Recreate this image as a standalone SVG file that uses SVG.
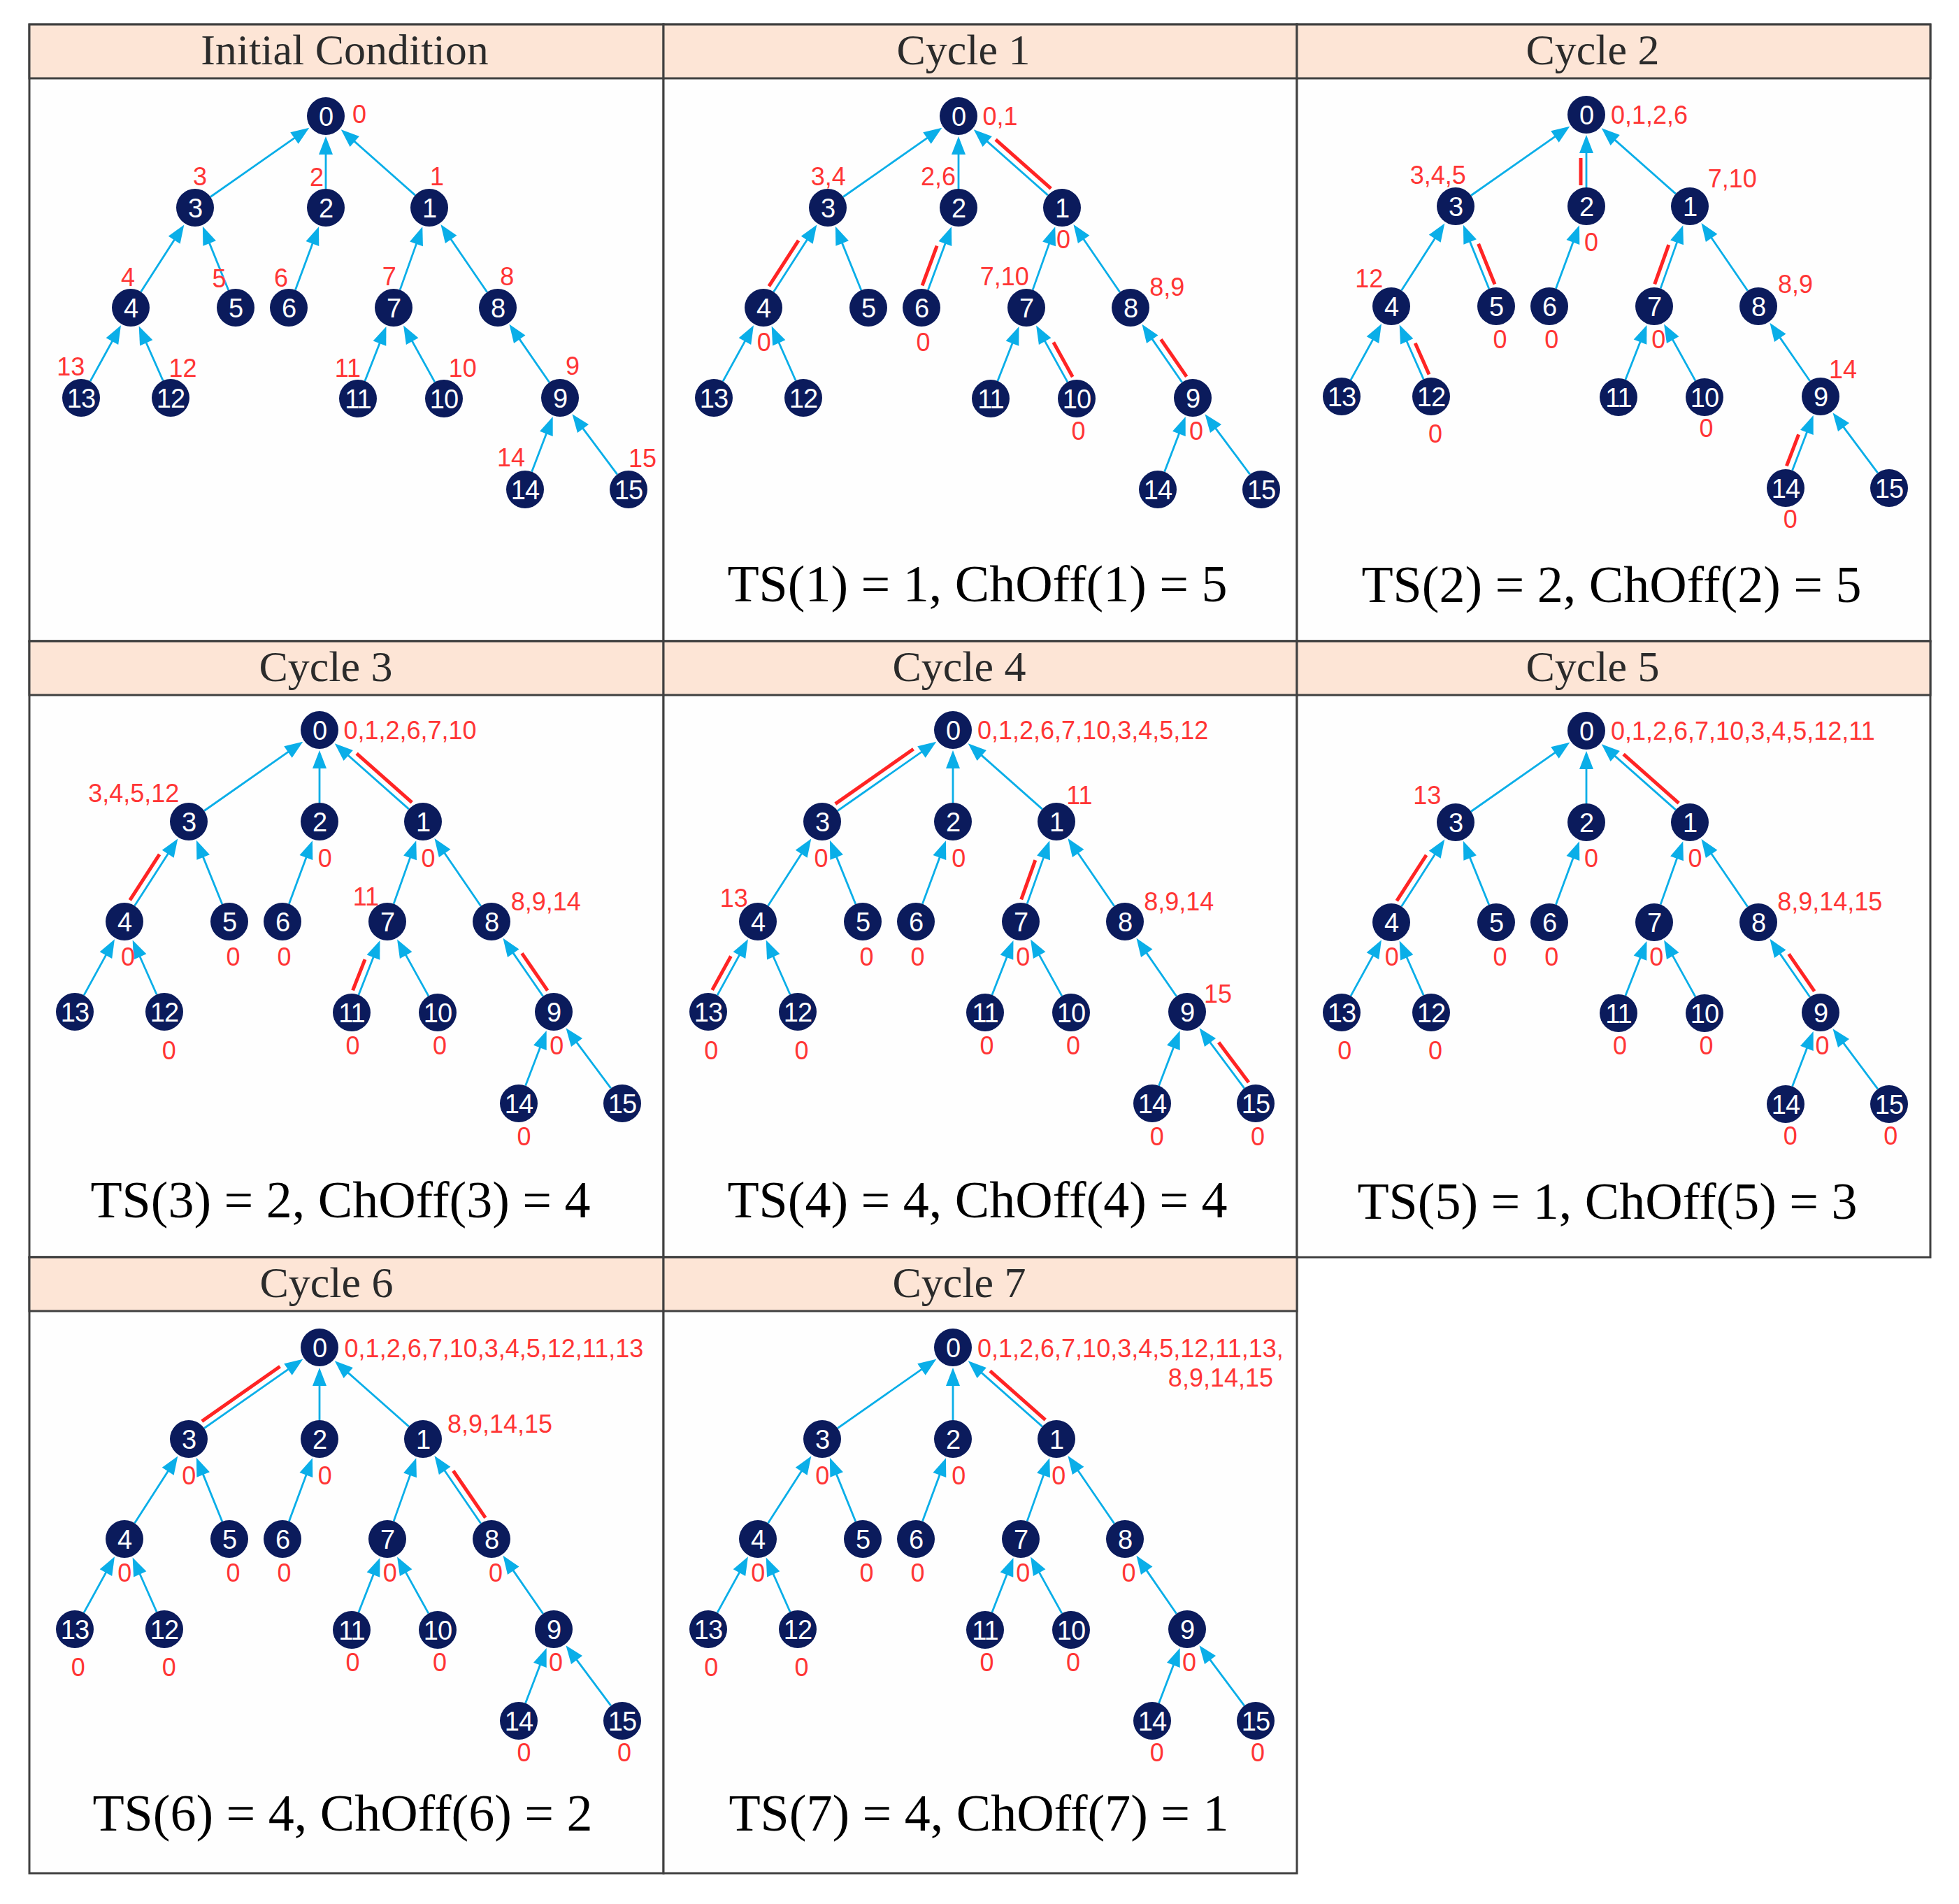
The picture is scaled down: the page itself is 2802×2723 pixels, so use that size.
<svg xmlns="http://www.w3.org/2000/svg" width="2802" height="2723" viewBox="0 0 2802 2723">
<defs>
<style>
.pb{fill:#fefefe;stroke:#404040;stroke-width:3}
.hd{fill:#fde5d6;stroke:#404040;stroke-width:3}
.ht{font-family:"Liberation Serif","Times New Roman",serif;font-size:62px;fill:#2b2b2b;text-anchor:middle}
.ts{font-family:"Liberation Serif","Times New Roman",serif;font-size:74px;fill:#000;text-anchor:middle}
.e{stroke:#0aaee8;stroke-width:2.8;fill:none;marker-end:url(#ah)}
.r{stroke:#ff2424;stroke-width:5;fill:none}
.n circle{fill:#0b1b5c}
.n text{font-family:"Liberation Sans",Arial,sans-serif;font-size:38px;fill:#fff;text-anchor:middle;letter-spacing:-1px}
.l{font-family:"Liberation Sans",Arial,sans-serif;font-size:36px;fill:#ff3535;text-anchor:middle}
.ls{text-anchor:start}
.le{text-anchor:end}
</style>
<marker id="ah" markerUnits="userSpaceOnUse" markerWidth="30" markerHeight="30" refX="0" refY="0" orient="auto" style="overflow:visible">
<path d="M-2,-10 L24,0 L-2,10 Z" fill="#0aaee8"/>
</marker>
</defs>
<rect x="0" y="0" width="2802" height="2723" fill="#ffffff"/>

<g id="frames">
<rect class="pb" x="42" y="35" width="907" height="882"/>
<rect class="pb" x="949" y="35" width="906" height="882"/>
<rect class="pb" x="1855" y="35" width="906" height="882"/>
<rect class="pb" x="42" y="917" width="907" height="881"/>
<rect class="pb" x="949" y="917" width="906" height="881"/>
<rect class="pb" x="1855" y="917" width="906" height="881"/>
<rect class="pb" x="42" y="1798" width="907" height="881"/>
<rect class="pb" x="949" y="1798" width="906" height="881"/>
<rect class="hd" x="42" y="35" width="907" height="77"/>
<rect class="hd" x="949" y="35" width="906" height="77"/>
<rect class="hd" x="1855" y="35" width="906" height="77"/>
<rect class="hd" x="42" y="917" width="907" height="77"/>
<rect class="hd" x="949" y="917" width="906" height="77"/>
<rect class="hd" x="1855" y="917" width="906" height="77"/>
<rect class="hd" x="42" y="1798" width="907" height="77"/>
<rect class="hd" x="949" y="1798" width="906" height="77"/>
</g>
<g id="titles">
<text class="ht" x="493" y="92">Initial Condition</text>
<text class="ht" x="1378" y="92">Cycle 1</text>
<text class="ht" x="2278" y="92">Cycle 2</text>
<text class="ht" x="466" y="974">Cycle 3</text>
<text class="ht" x="1372" y="974">Cycle 4</text>
<text class="ht" x="2278" y="974">Cycle 5</text>
<text class="ht" x="467" y="1855">Cycle 6</text>
<text class="ht" x="1372" y="1855">Cycle 7</text>
<text class="ts" x="1398" y="860">TS(1) = 1, ChOff(1) = 5</text>
<text class="ts" x="2305" y="861">TS(2) = 2, ChOff(2) = 5</text>
<text class="ts" x="487" y="1741">TS(3) = 2, ChOff(3) = 4</text>
<text class="ts" x="1398" y="1741">TS(4) = 4, ChOff(4) = 4</text>
<text class="ts" x="2299" y="1743">TS(5) = 1, ChOff(5) = 3</text>
<text class="ts" x="490" y="2618">TS(6) = 4, ChOff(6) = 2</text>
<text class="ts" x="1400" y="2618">TS(7) = 4, ChOff(7) = 1</text>
</g>

<!-- ===== Initial ===== -->
<g id="p0" transform="translate(466,166)">
<g id="p0-connectors">
<line class="e" x1="-164.9" y1="115.5" x2="-43.4" y2="30.4"/>
<line class="e" x1="0" y1="104" x2="0" y2="53"/>
<line class="e" x1="127.8" y1="113.1" x2="39.7" y2="35.1"/>
<line class="e" x1="-264.4" y1="251.3" x2="-215.7" y2="175.6"/>
<line class="e" x1="-139.2" y1="249" x2="-167.1" y2="180.1"/>
<line class="e" x1="-43.6" y1="248.7" x2="-18.4" y2="180.7"/>
<line class="e" x1="106.1" y1="248.6" x2="130.2" y2="180.9"/>
<line class="e" x1="230.7" y1="251.7" x2="178" y2="174.7"/>
<line class="e" x1="-337" y1="379.4" x2="-304.6" y2="320.4"/>
<line class="e" x1="-232.9" y1="378.3" x2="-257.6" y2="322.5"/>
<line class="e" x1="55.9" y1="378.9" x2="77.7" y2="323.3"/>
<line class="e" x1="155.9" y1="380.4" x2="122.7" y2="320.4"/>
<line class="e" x1="319.7" y1="380.8" x2="276.1" y2="317.6"/>
<line class="e" x1="294.6" y1="508.8" x2="316.1" y2="452.5"/>
<line class="e" x1="416.8" y1="512.4" x2="366.8" y2="445.4"/>
</g>
<g id="p0-n0" class="n"><circle cx="0" cy="0" r="27"/><text x="0" y="13.5">0</text></g>
<g id="p0-n1" class="n"><circle cx="148" cy="131" r="27"/><text x="148" y="144.5">1</text></g>
<g id="p0-n2" class="n"><circle cx="0" cy="131" r="27"/><text x="0" y="144.5">2</text></g>
<g id="p0-n3" class="n"><circle cx="-187" cy="131" r="27"/><text x="-187" y="144.5">3</text></g>
<g id="p0-n4" class="n"><circle cx="-279" cy="274" r="27"/><text x="-279" y="287.5">4</text></g>
<g id="p0-n5" class="n"><circle cx="-129" cy="274" r="27"/><text x="-129" y="287.5">5</text></g>
<g id="p0-n6" class="n"><circle cx="-53" cy="274" r="27"/><text x="-53" y="287.5">6</text></g>
<g id="p0-n7" class="n"><circle cx="97" cy="274" r="27"/><text x="97" y="287.5">7</text></g>
<g id="p0-n8" class="n"><circle cx="246" cy="274" r="27"/><text x="246" y="287.5">8</text></g>
<g id="p0-n9" class="n"><circle cx="335" cy="403" r="27"/><text x="335" y="416.5">9</text></g>
<g id="p0-n10" class="n"><circle cx="169" cy="404" r="27"/><text x="169" y="417.5">10</text></g>
<g id="p0-n11" class="n"><circle cx="46" cy="404" r="27"/><text x="46" y="417.5">11</text></g>
<g id="p0-n12" class="n"><circle cx="-222" cy="403" r="27"/><text x="-222" y="416.5">12</text></g>
<g id="p0-n13" class="n"><circle cx="-350" cy="403" r="27"/><text x="-350" y="416.5">13</text></g>
<g id="p0-n14" class="n"><circle cx="285" cy="534" r="27"/><text x="285" y="547.5">14</text></g>
<g id="p0-n15" class="n"><circle cx="433" cy="534" r="27"/><text x="433" y="547.5">15</text></g>
<g id="p0-labels">
<text class="l ls" x="38" y="10">0</text>
<text class="l" x="-180" y="98.6">3</text>
<text class="l" x="-13" y="100.3">2</text>
<text class="l" x="159" y="98.6">1</text>
<text class="l" x="-283" y="243.3">4</text>
<text class="l" x="-152.4" y="245">5</text>
<text class="l" x="-64" y="243.8">6</text>
<text class="l" x="90.7" y="242.1">7</text>
<text class="l" x="259.2" y="242.1">8</text>
<text class="l" x="-364.8" y="371.3">13</text>
<text class="l" x="-204.6" y="372.5">12</text>
<text class="l" x="31.4" y="372.5">11</text>
<text class="l" x="195.7" y="372.5">10</text>
<text class="l" x="352.9" y="370.1">9</text>
<text class="l" x="265" y="500.5">14</text>
<text class="l" x="453" y="502.2">15</text>
</g>
</g>

<!-- ===== Cycle 1 ===== -->
<g id="p1" transform="translate(1371,166)">
<g id="p1-connectors">
<line class="e" x1="-164.9" y1="115.5" x2="-43.4" y2="30.4"/>
<line class="e" x1="0" y1="104" x2="0" y2="53"/>
<line class="e" x1="127.8" y1="113.1" x2="39.7" y2="35.1"/>
<line class="e" x1="-264.4" y1="251.3" x2="-215.7" y2="175.6"/>
<line class="e" x1="-139.2" y1="249" x2="-167.1" y2="180.1"/>
<line class="e" x1="-43.6" y1="248.7" x2="-18.4" y2="180.7"/>
<line class="e" x1="106.1" y1="248.6" x2="130.2" y2="180.9"/>
<line class="e" x1="230.7" y1="251.7" x2="178" y2="174.7"/>
<line class="e" x1="-337" y1="379.4" x2="-304.6" y2="320.4"/>
<line class="e" x1="-232.9" y1="378.3" x2="-257.6" y2="322.5"/>
<line class="e" x1="55.9" y1="378.9" x2="77.7" y2="323.3"/>
<line class="e" x1="155.9" y1="380.4" x2="122.7" y2="320.4"/>
<line class="e" x1="319.7" y1="380.8" x2="276.1" y2="317.6"/>
<line class="e" x1="294.6" y1="508.8" x2="316.1" y2="452.5"/>
<line class="e" x1="416.8" y1="512.4" x2="366.8" y2="445.4"/>
<line class="r" x1="132.2" y1="103.6" x2="53.1" y2="33.6"/>
<line class="r" x1="-271.2" y1="243.4" x2="-228.9" y2="177.8"/>
<line class="r" x1="-51.9" y1="242.4" x2="-30.9" y2="185.7"/>
<line class="r" x1="163.2" y1="373" x2="135.8" y2="323.5"/>
<line class="r" x1="326.2" y1="372.6" x2="289.5" y2="319.4"/>
</g>
<g id="p1-n0" class="n"><circle cx="0" cy="0" r="27"/><text x="0" y="13.5">0</text></g>
<g id="p1-n1" class="n"><circle cx="148" cy="131" r="27"/><text x="148" y="144.5">1</text></g>
<g id="p1-n2" class="n"><circle cx="0" cy="131" r="27"/><text x="0" y="144.5">2</text></g>
<g id="p1-n3" class="n"><circle cx="-187" cy="131" r="27"/><text x="-187" y="144.5">3</text></g>
<g id="p1-n4" class="n"><circle cx="-279" cy="274" r="27"/><text x="-279" y="287.5">4</text></g>
<g id="p1-n5" class="n"><circle cx="-129" cy="274" r="27"/><text x="-129" y="287.5">5</text></g>
<g id="p1-n6" class="n"><circle cx="-53" cy="274" r="27"/><text x="-53" y="287.5">6</text></g>
<g id="p1-n7" class="n"><circle cx="97" cy="274" r="27"/><text x="97" y="287.5">7</text></g>
<g id="p1-n8" class="n"><circle cx="246" cy="274" r="27"/><text x="246" y="287.5">8</text></g>
<g id="p1-n9" class="n"><circle cx="335" cy="403" r="27"/><text x="335" y="416.5">9</text></g>
<g id="p1-n10" class="n"><circle cx="169" cy="404" r="27"/><text x="169" y="417.5">10</text></g>
<g id="p1-n11" class="n"><circle cx="46" cy="404" r="27"/><text x="46" y="417.5">11</text></g>
<g id="p1-n12" class="n"><circle cx="-222" cy="403" r="27"/><text x="-222" y="416.5">12</text></g>
<g id="p1-n13" class="n"><circle cx="-350" cy="403" r="27"/><text x="-350" y="416.5">13</text></g>
<g id="p1-n14" class="n"><circle cx="285" cy="534" r="27"/><text x="285" y="547.5">14</text></g>
<g id="p1-n15" class="n"><circle cx="433" cy="534" r="27"/><text x="433" y="547.5">15</text></g>
<g id="p1-labels">
<text class="l ls" x="34.4" y="12.5">0,1</text>
<text class="l" x="-186.2" y="98.6">3,4</text>
<text class="l" x="-29" y="98.6">2,6</text>
<text class="l" x="150" y="188.7">0</text>
<text class="l" x="65.8" y="242.1">7,10</text>
<text class="l" x="298.3" y="256.5">8,9</text>
<text class="l" x="-278.2" y="335.7">0</text>
<text class="l" x="-50.4" y="335.7">0</text>
<text class="l" x="171.4" y="463.1">0</text>
<text class="l" x="339.9" y="463.1">0</text>
</g>
</g>

<!-- ===== Cycle 2 ===== -->
<g id="p2" transform="translate(2269,164)">
<g id="p2-connectors">
<line class="e" x1="-164.9" y1="115.5" x2="-43.4" y2="30.4"/>
<line class="e" x1="0" y1="104" x2="0" y2="53"/>
<line class="e" x1="127.8" y1="113.1" x2="39.7" y2="35.1"/>
<line class="e" x1="-264.4" y1="251.3" x2="-215.7" y2="175.6"/>
<line class="e" x1="-139.2" y1="249" x2="-167.1" y2="180.1"/>
<line class="e" x1="-43.6" y1="248.7" x2="-18.4" y2="180.7"/>
<line class="e" x1="106.1" y1="248.6" x2="130.2" y2="180.9"/>
<line class="e" x1="230.7" y1="251.7" x2="178" y2="174.7"/>
<line class="e" x1="-337" y1="379.4" x2="-304.6" y2="320.4"/>
<line class="e" x1="-232.9" y1="378.3" x2="-257.6" y2="322.5"/>
<line class="e" x1="55.9" y1="378.9" x2="77.7" y2="323.3"/>
<line class="e" x1="155.9" y1="380.4" x2="122.7" y2="320.4"/>
<line class="e" x1="319.7" y1="380.8" x2="276.1" y2="317.6"/>
<line class="e" x1="294.6" y1="508.8" x2="316.1" y2="452.5"/>
<line class="e" x1="416.8" y1="512.4" x2="366.8" y2="445.4"/>
<line class="r" x1="-8" y1="101" x2="-8" y2="62"/>
<line class="r" x1="-131" y1="242.5" x2="-154.4" y2="184.7"/>
<line class="r" x1="97.7" y1="242.4" x2="117.8" y2="186.1"/>
<line class="r" x1="-225" y1="371.5" x2="-244.8" y2="326.7"/>
<line class="r" x1="286.4" y1="502.4" x2="303.6" y2="457.3"/>
</g>
<g id="p2-n0" class="n"><circle cx="0" cy="0" r="27"/><text x="0" y="13.5">0</text></g>
<g id="p2-n1" class="n"><circle cx="148" cy="131" r="27"/><text x="148" y="144.5">1</text></g>
<g id="p2-n2" class="n"><circle cx="0" cy="131" r="27"/><text x="0" y="144.5">2</text></g>
<g id="p2-n3" class="n"><circle cx="-187" cy="131" r="27"/><text x="-187" y="144.5">3</text></g>
<g id="p2-n4" class="n"><circle cx="-279" cy="274" r="27"/><text x="-279" y="287.5">4</text></g>
<g id="p2-n5" class="n"><circle cx="-129" cy="274" r="27"/><text x="-129" y="287.5">5</text></g>
<g id="p2-n6" class="n"><circle cx="-53" cy="274" r="27"/><text x="-53" y="287.5">6</text></g>
<g id="p2-n7" class="n"><circle cx="97" cy="274" r="27"/><text x="97" y="287.5">7</text></g>
<g id="p2-n8" class="n"><circle cx="246" cy="274" r="27"/><text x="246" y="287.5">8</text></g>
<g id="p2-n9" class="n"><circle cx="335" cy="403" r="27"/><text x="335" y="416.5">9</text></g>
<g id="p2-n10" class="n"><circle cx="169" cy="404" r="27"/><text x="169" y="417.5">10</text></g>
<g id="p2-n11" class="n"><circle cx="46" cy="404" r="27"/><text x="46" y="417.5">11</text></g>
<g id="p2-n12" class="n"><circle cx="-222" cy="403" r="27"/><text x="-222" y="416.5">12</text></g>
<g id="p2-n13" class="n"><circle cx="-350" cy="403" r="27"/><text x="-350" y="416.5">13</text></g>
<g id="p2-n14" class="n"><circle cx="285" cy="534" r="27"/><text x="285" y="547.5">14</text></g>
<g id="p2-n15" class="n"><circle cx="433" cy="534" r="27"/><text x="433" y="547.5">15</text></g>
<g id="p2-labels">
<text class="l ls" x="35" y="12.5">0,1,2,6</text>
<text class="l" x="-212.3" y="98.6">3,4,5</text>
<text class="l" x="208.8" y="104.3">7,10</text>
<text class="l" x="7.1" y="195">0</text>
<text class="l" x="-310.8" y="246.7">12</text>
<text class="l" x="299" y="254.8">8,9</text>
<text class="l" x="-123.4" y="334">0</text>
<text class="l" x="-49.8" y="334">0</text>
<text class="l" x="103.2" y="334">0</text>
<text class="l" x="367.1" y="377">14</text>
<text class="l" x="-215.9" y="468.9">0</text>
<text class="l" x="171.4" y="461.4">0</text>
<text class="l" x="291.8" y="591.1">0</text>
</g>
</g>

<!-- ===== Cycle 3 ===== -->
<g id="p3" transform="translate(457,1044)">
<g id="p3-connectors">
<line class="e" x1="-164.9" y1="115.5" x2="-43.4" y2="30.4"/>
<line class="e" x1="0" y1="104" x2="0" y2="53"/>
<line class="e" x1="127.8" y1="113.1" x2="39.7" y2="35.1"/>
<line class="e" x1="-264.4" y1="251.3" x2="-215.7" y2="175.6"/>
<line class="e" x1="-139.2" y1="249" x2="-167.1" y2="180.1"/>
<line class="e" x1="-43.6" y1="248.7" x2="-18.4" y2="180.7"/>
<line class="e" x1="106.1" y1="248.6" x2="130.2" y2="180.9"/>
<line class="e" x1="230.7" y1="251.7" x2="178" y2="174.7"/>
<line class="e" x1="-337" y1="379.4" x2="-304.6" y2="320.4"/>
<line class="e" x1="-232.9" y1="378.3" x2="-257.6" y2="322.5"/>
<line class="e" x1="55.9" y1="378.9" x2="77.7" y2="323.3"/>
<line class="e" x1="155.9" y1="380.4" x2="122.7" y2="320.4"/>
<line class="e" x1="319.7" y1="380.8" x2="276.1" y2="317.6"/>
<line class="e" x1="294.6" y1="508.8" x2="316.1" y2="452.5"/>
<line class="e" x1="416.8" y1="512.4" x2="366.8" y2="445.4"/>
<line class="r" x1="132.2" y1="103.6" x2="53.1" y2="33.6"/>
<line class="r" x1="-271.2" y1="243.4" x2="-228.9" y2="177.8"/>
<line class="r" x1="47.6" y1="372.4" x2="65" y2="328.1"/>
<line class="r" x1="326.2" y1="372.6" x2="289.5" y2="319.4"/>
</g>
<g id="p3-n0" class="n"><circle cx="0" cy="0" r="27"/><text x="0" y="13.5">0</text></g>
<g id="p3-n1" class="n"><circle cx="148" cy="131" r="27"/><text x="148" y="144.5">1</text></g>
<g id="p3-n2" class="n"><circle cx="0" cy="131" r="27"/><text x="0" y="144.5">2</text></g>
<g id="p3-n3" class="n"><circle cx="-187" cy="131" r="27"/><text x="-187" y="144.5">3</text></g>
<g id="p3-n4" class="n"><circle cx="-279" cy="274" r="27"/><text x="-279" y="287.5">4</text></g>
<g id="p3-n5" class="n"><circle cx="-129" cy="274" r="27"/><text x="-129" y="287.5">5</text></g>
<g id="p3-n6" class="n"><circle cx="-53" cy="274" r="27"/><text x="-53" y="287.5">6</text></g>
<g id="p3-n7" class="n"><circle cx="97" cy="274" r="27"/><text x="97" y="287.5">7</text></g>
<g id="p3-n8" class="n"><circle cx="246" cy="274" r="27"/><text x="246" y="287.5">8</text></g>
<g id="p3-n9" class="n"><circle cx="335" cy="403" r="27"/><text x="335" y="416.5">9</text></g>
<g id="p3-n10" class="n"><circle cx="169" cy="404" r="27"/><text x="169" y="417.5">10</text></g>
<g id="p3-n11" class="n"><circle cx="46" cy="404" r="27"/><text x="46" y="417.5">11</text></g>
<g id="p3-n12" class="n"><circle cx="-222" cy="403" r="27"/><text x="-222" y="416.5">12</text></g>
<g id="p3-n13" class="n"><circle cx="-350" cy="403" r="27"/><text x="-350" y="416.5">13</text></g>
<g id="p3-n14" class="n"><circle cx="285" cy="534" r="27"/><text x="285" y="547.5">14</text></g>
<g id="p3-n15" class="n"><circle cx="433" cy="534" r="27"/><text x="433" y="547.5">15</text></g>
<g id="p3-labels">
<text class="l ls" x="34.4" y="13">0,1,2,6,7,10</text>
<text class="l" x="-265.7" y="103.2">3,4,5,12</text>
<text class="l" x="7.7" y="196.2">0</text>
<text class="l" x="155.4" y="196.2">0</text>
<text class="l" x="66.4" y="250.7">11</text>
<text class="l" x="323.8" y="257.6">8,9,14</text>
<text class="l" x="-274" y="336.8">0</text>
<text class="l" x="-123.4" y="336.8">0</text>
<text class="l" x="-50.4" y="336.8">0</text>
<text class="l" x="-215.3" y="470.6">0</text>
<text class="l" x="47.4" y="464.3">0</text>
<text class="l" x="172" y="464.3">0</text>
<text class="l" x="339.3" y="464.3">0</text>
<text class="l" x="292.5" y="593.5">0</text>
</g>
</g>

<!-- ===== Cycle 4 ===== -->
<g id="p4" transform="translate(1363,1044)">
<g id="p4-connectors">
<line class="e" x1="-164.9" y1="115.5" x2="-43.4" y2="30.4"/>
<line class="e" x1="0" y1="104" x2="0" y2="53"/>
<line class="e" x1="127.8" y1="113.1" x2="39.7" y2="35.1"/>
<line class="e" x1="-264.4" y1="251.3" x2="-215.7" y2="175.6"/>
<line class="e" x1="-139.2" y1="249" x2="-167.1" y2="180.1"/>
<line class="e" x1="-43.6" y1="248.7" x2="-18.4" y2="180.7"/>
<line class="e" x1="106.1" y1="248.6" x2="130.2" y2="180.9"/>
<line class="e" x1="230.7" y1="251.7" x2="178" y2="174.7"/>
<line class="e" x1="-337" y1="379.4" x2="-304.6" y2="320.4"/>
<line class="e" x1="-232.9" y1="378.3" x2="-257.6" y2="322.5"/>
<line class="e" x1="55.9" y1="378.9" x2="77.7" y2="323.3"/>
<line class="e" x1="155.9" y1="380.4" x2="122.7" y2="320.4"/>
<line class="e" x1="319.7" y1="380.8" x2="276.1" y2="317.6"/>
<line class="e" x1="294.6" y1="508.8" x2="316.1" y2="452.5"/>
<line class="e" x1="416.8" y1="512.4" x2="366.8" y2="445.4"/>
<line class="r" x1="-168.2" y1="105.6" x2="-56.5" y2="27.3"/>
<line class="r" x1="97.7" y1="242.4" x2="117.8" y2="186.1"/>
<line class="r" x1="-344.3" y1="371.9" x2="-317.6" y2="323.5"/>
<line class="r" x1="423" y1="504" x2="380.1" y2="446.7"/>
</g>
<g id="p4-n0" class="n"><circle cx="0" cy="0" r="27"/><text x="0" y="13.5">0</text></g>
<g id="p4-n1" class="n"><circle cx="148" cy="131" r="27"/><text x="148" y="144.5">1</text></g>
<g id="p4-n2" class="n"><circle cx="0" cy="131" r="27"/><text x="0" y="144.5">2</text></g>
<g id="p4-n3" class="n"><circle cx="-187" cy="131" r="27"/><text x="-187" y="144.5">3</text></g>
<g id="p4-n4" class="n"><circle cx="-279" cy="274" r="27"/><text x="-279" y="287.5">4</text></g>
<g id="p4-n5" class="n"><circle cx="-129" cy="274" r="27"/><text x="-129" y="287.5">5</text></g>
<g id="p4-n6" class="n"><circle cx="-53" cy="274" r="27"/><text x="-53" y="287.5">6</text></g>
<g id="p4-n7" class="n"><circle cx="97" cy="274" r="27"/><text x="97" y="287.5">7</text></g>
<g id="p4-n8" class="n"><circle cx="246" cy="274" r="27"/><text x="246" y="287.5">8</text></g>
<g id="p4-n9" class="n"><circle cx="335" cy="403" r="27"/><text x="335" y="416.5">9</text></g>
<g id="p4-n10" class="n"><circle cx="169" cy="404" r="27"/><text x="169" y="417.5">10</text></g>
<g id="p4-n11" class="n"><circle cx="46" cy="404" r="27"/><text x="46" y="417.5">11</text></g>
<g id="p4-n12" class="n"><circle cx="-222" cy="403" r="27"/><text x="-222" y="416.5">12</text></g>
<g id="p4-n13" class="n"><circle cx="-350" cy="403" r="27"/><text x="-350" y="416.5">13</text></g>
<g id="p4-n14" class="n"><circle cx="285" cy="534" r="27"/><text x="285" y="547.5">14</text></g>
<g id="p4-n15" class="n"><circle cx="433" cy="534" r="27"/><text x="433" y="547.5">15</text></g>
<g id="p4-labels">
<text class="l ls" x="35" y="13">0,1,2,6,7,10,3,4,5,12</text>
<text class="l" x="180.9" y="105.5">11</text>
<text class="l" x="-188.6" y="196.2">0</text>
<text class="l" x="8.3" y="196.2">0</text>
<text class="l" x="-313.2" y="252.5">13</text>
<text class="l" x="323.3" y="257.6">8,9,14</text>
<text class="l" x="-123.4" y="336.8">0</text>
<text class="l" x="-50.4" y="336.8">0</text>
<text class="l" x="100.2" y="336.8">0</text>
<text class="l" x="379" y="390.2">15</text>
<text class="l" x="-345.8" y="470.6">0</text>
<text class="l" x="-216.5" y="470.6">0</text>
<text class="l" x="48.6" y="464.3">0</text>
<text class="l" x="172" y="464.3">0</text>
<text class="l" x="291.8" y="593.5">0</text>
<text class="l" x="436" y="593.5">0</text>
</g>
</g>

<!-- ===== Cycle 5 ===== -->
<g id="p5" transform="translate(2269,1045)">
<g id="p5-connectors">
<line class="e" x1="-164.9" y1="115.5" x2="-43.4" y2="30.4"/>
<line class="e" x1="0" y1="104" x2="0" y2="53"/>
<line class="e" x1="127.8" y1="113.1" x2="39.7" y2="35.1"/>
<line class="e" x1="-264.4" y1="251.3" x2="-215.7" y2="175.6"/>
<line class="e" x1="-139.2" y1="249" x2="-167.1" y2="180.1"/>
<line class="e" x1="-43.6" y1="248.7" x2="-18.4" y2="180.7"/>
<line class="e" x1="106.1" y1="248.6" x2="130.2" y2="180.9"/>
<line class="e" x1="230.7" y1="251.7" x2="178" y2="174.7"/>
<line class="e" x1="-337" y1="379.4" x2="-304.6" y2="320.4"/>
<line class="e" x1="-232.9" y1="378.3" x2="-257.6" y2="322.5"/>
<line class="e" x1="55.9" y1="378.9" x2="77.7" y2="323.3"/>
<line class="e" x1="155.9" y1="380.4" x2="122.7" y2="320.4"/>
<line class="e" x1="319.7" y1="380.8" x2="276.1" y2="317.6"/>
<line class="e" x1="294.6" y1="508.8" x2="316.1" y2="452.5"/>
<line class="e" x1="416.8" y1="512.4" x2="366.8" y2="445.4"/>
<line class="r" x1="132.2" y1="103.6" x2="53.1" y2="33.6"/>
<line class="r" x1="-271.2" y1="243.4" x2="-228.9" y2="177.8"/>
<line class="r" x1="326.2" y1="372.6" x2="289.5" y2="319.4"/>
</g>
<g id="p5-n0" class="n"><circle cx="0" cy="0" r="27"/><text x="0" y="13.5">0</text></g>
<g id="p5-n1" class="n"><circle cx="148" cy="131" r="27"/><text x="148" y="144.5">1</text></g>
<g id="p5-n2" class="n"><circle cx="0" cy="131" r="27"/><text x="0" y="144.5">2</text></g>
<g id="p5-n3" class="n"><circle cx="-187" cy="131" r="27"/><text x="-187" y="144.5">3</text></g>
<g id="p5-n4" class="n"><circle cx="-279" cy="274" r="27"/><text x="-279" y="287.5">4</text></g>
<g id="p5-n5" class="n"><circle cx="-129" cy="274" r="27"/><text x="-129" y="287.5">5</text></g>
<g id="p5-n6" class="n"><circle cx="-53" cy="274" r="27"/><text x="-53" y="287.5">6</text></g>
<g id="p5-n7" class="n"><circle cx="97" cy="274" r="27"/><text x="97" y="287.5">7</text></g>
<g id="p5-n8" class="n"><circle cx="246" cy="274" r="27"/><text x="246" y="287.5">8</text></g>
<g id="p5-n9" class="n"><circle cx="335" cy="403" r="27"/><text x="335" y="416.5">9</text></g>
<g id="p5-n10" class="n"><circle cx="169" cy="404" r="27"/><text x="169" y="417.5">10</text></g>
<g id="p5-n11" class="n"><circle cx="46" cy="404" r="27"/><text x="46" y="417.5">11</text></g>
<g id="p5-n12" class="n"><circle cx="-222" cy="403" r="27"/><text x="-222" y="416.5">12</text></g>
<g id="p5-n13" class="n"><circle cx="-350" cy="403" r="27"/><text x="-350" y="416.5">13</text></g>
<g id="p5-n14" class="n"><circle cx="285" cy="534" r="27"/><text x="285" y="547.5">14</text></g>
<g id="p5-n15" class="n"><circle cx="433" cy="534" r="27"/><text x="433" y="547.5">15</text></g>
<g id="p5-labels">
<text class="l ls" x="35" y="12.5">0,1,2,6,7,10,3,4,5,12,11</text>
<text class="l" x="-227.8" y="104.9">13</text>
<text class="l" x="7.1" y="195">0</text>
<text class="l" x="155.4" y="195">0</text>
<text class="l" x="348.2" y="256.5">8,9,14,15</text>
<text class="l" x="-278.2" y="335.7">0</text>
<text class="l" x="-123.4" y="335.7">0</text>
<text class="l" x="-49.8" y="335.7">0</text>
<text class="l" x="100.2" y="335.7">0</text>
<text class="l" x="-345.8" y="469.5">0</text>
<text class="l" x="-215.9" y="469.5">0</text>
<text class="l" x="48" y="463.1">0</text>
<text class="l" x="171.4" y="463.1">0</text>
<text class="l" x="337.5" y="463.1">0</text>
<text class="l" x="291.8" y="592.3">0</text>
<text class="l" x="435.3" y="592.3">0</text>
</g>
</g>

<!-- ===== Cycle 6 ===== -->
<g id="p6" transform="translate(457,1927)">
<g id="p6-connectors">
<line class="e" x1="-164.9" y1="115.5" x2="-43.4" y2="30.4"/>
<line class="e" x1="0" y1="104" x2="0" y2="53"/>
<line class="e" x1="127.8" y1="113.1" x2="39.7" y2="35.1"/>
<line class="e" x1="-264.4" y1="251.3" x2="-215.7" y2="175.6"/>
<line class="e" x1="-139.2" y1="249" x2="-167.1" y2="180.1"/>
<line class="e" x1="-43.6" y1="248.7" x2="-18.4" y2="180.7"/>
<line class="e" x1="106.1" y1="248.6" x2="130.2" y2="180.9"/>
<line class="e" x1="230.7" y1="251.7" x2="178" y2="174.7"/>
<line class="e" x1="-337" y1="379.4" x2="-304.6" y2="320.4"/>
<line class="e" x1="-232.9" y1="378.3" x2="-257.6" y2="322.5"/>
<line class="e" x1="55.9" y1="378.9" x2="77.7" y2="323.3"/>
<line class="e" x1="155.9" y1="380.4" x2="122.7" y2="320.4"/>
<line class="e" x1="319.7" y1="380.8" x2="276.1" y2="317.6"/>
<line class="e" x1="294.6" y1="508.8" x2="316.1" y2="452.5"/>
<line class="e" x1="416.8" y1="512.4" x2="366.8" y2="445.4"/>
<line class="r" x1="-168.2" y1="105.6" x2="-56.5" y2="27.3"/>
<line class="r" x1="237.3" y1="243.6" x2="191.3" y2="176.5"/>
</g>
<g id="p6-n0" class="n"><circle cx="0" cy="0" r="27"/><text x="0" y="13.5">0</text></g>
<g id="p6-n1" class="n"><circle cx="148" cy="131" r="27"/><text x="148" y="144.5">1</text></g>
<g id="p6-n2" class="n"><circle cx="0" cy="131" r="27"/><text x="0" y="144.5">2</text></g>
<g id="p6-n3" class="n"><circle cx="-187" cy="131" r="27"/><text x="-187" y="144.5">3</text></g>
<g id="p6-n4" class="n"><circle cx="-279" cy="274" r="27"/><text x="-279" y="287.5">4</text></g>
<g id="p6-n5" class="n"><circle cx="-129" cy="274" r="27"/><text x="-129" y="287.5">5</text></g>
<g id="p6-n6" class="n"><circle cx="-53" cy="274" r="27"/><text x="-53" y="287.5">6</text></g>
<g id="p6-n7" class="n"><circle cx="97" cy="274" r="27"/><text x="97" y="287.5">7</text></g>
<g id="p6-n8" class="n"><circle cx="246" cy="274" r="27"/><text x="246" y="287.5">8</text></g>
<g id="p6-n9" class="n"><circle cx="335" cy="403" r="27"/><text x="335" y="416.5">9</text></g>
<g id="p6-n10" class="n"><circle cx="169" cy="404" r="27"/><text x="169" y="417.5">10</text></g>
<g id="p6-n11" class="n"><circle cx="46" cy="404" r="27"/><text x="46" y="417.5">11</text></g>
<g id="p6-n12" class="n"><circle cx="-222" cy="403" r="27"/><text x="-222" y="416.5">12</text></g>
<g id="p6-n13" class="n"><circle cx="-350" cy="403" r="27"/><text x="-350" y="416.5">13</text></g>
<g id="p6-n14" class="n"><circle cx="285" cy="534" r="27"/><text x="285" y="547.5">14</text></g>
<g id="p6-n15" class="n"><circle cx="433" cy="534" r="27"/><text x="433" y="547.5">15</text></g>
<g id="p6-labels">
<text class="l ls" x="35.6" y="13.7">0,1,2,6,7,10,3,4,5,12,11,13</text>
<text class="l" x="258" y="122.2">8,9,14,15</text>
<text class="l" x="-186.8" y="195.6">0</text>
<text class="l" x="7.7" y="195.6">0</text>
<text class="l" x="-278.8" y="335.3">0</text>
<text class="l" x="-123.4" y="335.3">0</text>
<text class="l" x="-50.4" y="335.3">0</text>
<text class="l" x="100.8" y="335.3">0</text>
<text class="l" x="252.1" y="335.3">0</text>
<text class="l" x="-345.2" y="470.2">0</text>
<text class="l" x="-215.3" y="470.2">0</text>
<text class="l" x="47.4" y="462.6">0</text>
<text class="l" x="172" y="462.6">0</text>
<text class="l" x="338.1" y="462.6">0</text>
<text class="l" x="292.5" y="591.7">0</text>
<text class="l" x="436" y="591.7">0</text>
</g>
</g>

<!-- ===== Cycle 7 ===== -->
<g id="p7" transform="translate(1363,1927)">
<g id="p7-connectors">
<line class="e" x1="-164.9" y1="115.5" x2="-43.4" y2="30.4"/>
<line class="e" x1="0" y1="104" x2="0" y2="53"/>
<line class="e" x1="127.8" y1="113.1" x2="39.7" y2="35.1"/>
<line class="e" x1="-264.4" y1="251.3" x2="-215.7" y2="175.6"/>
<line class="e" x1="-139.2" y1="249" x2="-167.1" y2="180.1"/>
<line class="e" x1="-43.6" y1="248.7" x2="-18.4" y2="180.7"/>
<line class="e" x1="106.1" y1="248.6" x2="130.2" y2="180.9"/>
<line class="e" x1="230.7" y1="251.7" x2="178" y2="174.7"/>
<line class="e" x1="-337" y1="379.4" x2="-304.6" y2="320.4"/>
<line class="e" x1="-232.9" y1="378.3" x2="-257.6" y2="322.5"/>
<line class="e" x1="55.9" y1="378.9" x2="77.7" y2="323.3"/>
<line class="e" x1="155.9" y1="380.4" x2="122.7" y2="320.4"/>
<line class="e" x1="319.7" y1="380.8" x2="276.1" y2="317.6"/>
<line class="e" x1="294.6" y1="508.8" x2="316.1" y2="452.5"/>
<line class="e" x1="416.8" y1="512.4" x2="366.8" y2="445.4"/>
<line class="r" x1="132.2" y1="103.6" x2="53.1" y2="33.6"/>
</g>
<g id="p7-n0" class="n"><circle cx="0" cy="0" r="27"/><text x="0" y="13.5">0</text></g>
<g id="p7-n1" class="n"><circle cx="148" cy="131" r="27"/><text x="148" y="144.5">1</text></g>
<g id="p7-n2" class="n"><circle cx="0" cy="131" r="27"/><text x="0" y="144.5">2</text></g>
<g id="p7-n3" class="n"><circle cx="-187" cy="131" r="27"/><text x="-187" y="144.5">3</text></g>
<g id="p7-n4" class="n"><circle cx="-279" cy="274" r="27"/><text x="-279" y="287.5">4</text></g>
<g id="p7-n5" class="n"><circle cx="-129" cy="274" r="27"/><text x="-129" y="287.5">5</text></g>
<g id="p7-n6" class="n"><circle cx="-53" cy="274" r="27"/><text x="-53" y="287.5">6</text></g>
<g id="p7-n7" class="n"><circle cx="97" cy="274" r="27"/><text x="97" y="287.5">7</text></g>
<g id="p7-n8" class="n"><circle cx="246" cy="274" r="27"/><text x="246" y="287.5">8</text></g>
<g id="p7-n9" class="n"><circle cx="335" cy="403" r="27"/><text x="335" y="416.5">9</text></g>
<g id="p7-n10" class="n"><circle cx="169" cy="404" r="27"/><text x="169" y="417.5">10</text></g>
<g id="p7-n11" class="n"><circle cx="46" cy="404" r="27"/><text x="46" y="417.5">11</text></g>
<g id="p7-n12" class="n"><circle cx="-222" cy="403" r="27"/><text x="-222" y="416.5">12</text></g>
<g id="p7-n13" class="n"><circle cx="-350" cy="403" r="27"/><text x="-350" y="416.5">13</text></g>
<g id="p7-n14" class="n"><circle cx="285" cy="534" r="27"/><text x="285" y="547.5">14</text></g>
<g id="p7-n15" class="n"><circle cx="433" cy="534" r="27"/><text x="433" y="547.5">15</text></g>
<g id="p7-labels">
<text class="l ls" x="35" y="13.7">0,1,2,6,7,10,3,4,5,12,11,13,</text>
<text class="l le" x="458" y="55.5">8,9,14,15</text>
<text class="l" x="-186.8" y="195.6">0</text>
<text class="l" x="8.3" y="195.6">0</text>
<text class="l" x="151.2" y="195.6">0</text>
<text class="l" x="-278.8" y="335.3">0</text>
<text class="l" x="-123.4" y="335.3">0</text>
<text class="l" x="-50.4" y="335.3">0</text>
<text class="l" x="100.2" y="335.3">0</text>
<text class="l" x="251.5" y="335.3">0</text>
<text class="l" x="-345.8" y="470.2">0</text>
<text class="l" x="-216.5" y="470.2">0</text>
<text class="l" x="48.6" y="462.6">0</text>
<text class="l" x="172" y="462.6">0</text>
<text class="l" x="338.1" y="462.6">0</text>
<text class="l" x="291.8" y="591.7">0</text>
<text class="l" x="436" y="591.7">0</text>
</g>
</g>
</svg>
